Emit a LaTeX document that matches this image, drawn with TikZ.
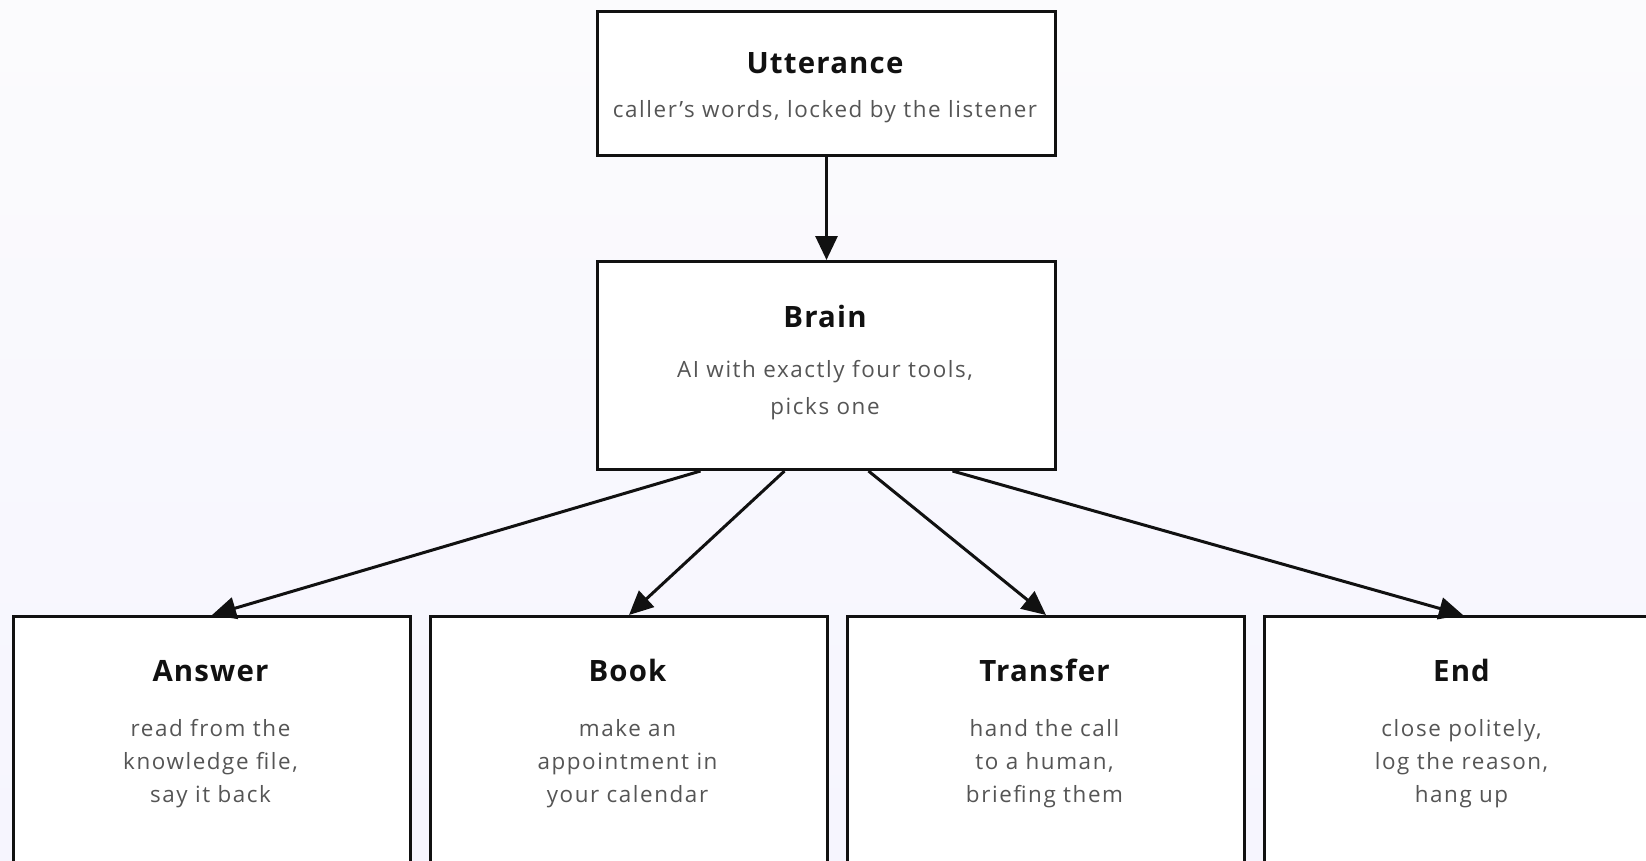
\documentclass[tikz,border=0pt]{standalone}
\usepackage{fontspec}
\setmainfont{Open Sans}
\newfontfamily\subfont[LetterSpace=7]{Open Sans}
\newfontfamily\ttlfont[LetterSpace=4]{Open Sans}
\usetikzlibrary{arrows.meta,calc}
\definecolor{edgec}{HTML}{111111}
\definecolor{titlec}{HTML}{111111}
\definecolor{subc}{HTML}{555555}
\definecolor{bgtop}{HTML}{FBFBFD}
\definecolor{bgbot}{HTML}{F6F5FE}
\tikzset{
  box/.style={draw=edgec, line width=3bp, fill=white, rectangle, inner sep=0pt, anchor=north west},
  ttl/.style={anchor=base, inner sep=0pt, text=titlec, font=\ttlfont\fontsize{29.5}{34}\selectfont\bfseries},
  sub/.style={anchor=base, inner sep=0pt, text=subc, font=\subfont\fontsize{22.5}{26}\selectfont},
  arr/.style={draw=edgec, line width=3bp, -{Triangle[length=24bp,width=22bp]}}
}
\begin{document}
\begin{tikzpicture}[x=1bp,y=-1bp]
\useasboundingbox (0,0) rectangle (1646,860);
\clip (0,0) rectangle (1646,860);
\shade[top color=bgtop, bottom color=bgbot] (0,0) rectangle (1646,860);
% boxes
\node[box, minimum width=458bp, minimum height=144bp] (utt) at (596,10) {};
\node[box, minimum width=458bp, minimum height=208bp] (brain) at (596,260) {};
\node[box, minimum width=397bp, minimum height=300bp] (ans) at (12,615) {};
\node[box, minimum width=397bp, minimum height=300bp] (book) at (429,615) {};
\node[box, minimum width=397bp, minimum height=300bp] (trans) at (846,615) {};
\node[box, minimum width=397bp, minimum height=300bp] (endb) at (1263,615) {};
% texts
\node[ttl] (uttT) at (825,73) {Utterance};
\node[sub] (uttS) at (825,117) {caller’s words, locked by the listener};
\node[ttl] (brainT) at (825,327) {Brain};
\node[sub] (brainS1) at (825,377) {AI with exactly four tools,};
\node[sub] (brainS2) at (825,414) {picks one};
\node[ttl] (ansT) at (210.5,681) {Answer};
\node[sub] (ansS1) at (210.5,736) {read from the};
\node[sub] (ansS2) at (210.5,769) {knowledge file,};
\node[sub] (ansS3) at (210.5,802) {say it back};
\node[ttl] (bookT) at (627.5,681) {Book};
\node[sub] (bookS1) at (627.5,736) {make an};
\node[sub] (bookS2) at (627.5,769) {appointment in};
\node[sub] (bookS3) at (627.5,802) {your calendar};
\node[ttl] (transT) at (1044.5,681) {Transfer};
\node[sub] (transS1) at (1044.5,736) {hand the call};
\node[sub] (transS2) at (1044.5,769) {to a human,};
\node[sub] (transS3) at (1044.5,802) {briefing them};
\node[ttl] (endT) at (1461.5,681) {End};
\node[sub] (endS1) at (1461.5,736) {close politely,};
\node[sub] (endS2) at (1461.5,769) {log the reason,};
\node[sub] (endS3) at (1461.5,802) {hang up};
% connectors
\coordinate (b1) at ($(brain.south)+(-126,0)$);
\coordinate (b2) at ($(brain.south)+(-42,0)$);
\coordinate (b3) at ($(brain.south)+(42,0)$);
\coordinate (b4) at ($(brain.south)+(126,0)$);
\draw[arr] (utt.south) -- (brain.north);
\draw[arr] (b1) -- (ans.north);
\draw[arr] (b2) -- (book.north);
\draw[arr] (b3) -- (trans.north);
\draw[arr] (b4) -- (endb.north);
\end{tikzpicture}
\end{document}
